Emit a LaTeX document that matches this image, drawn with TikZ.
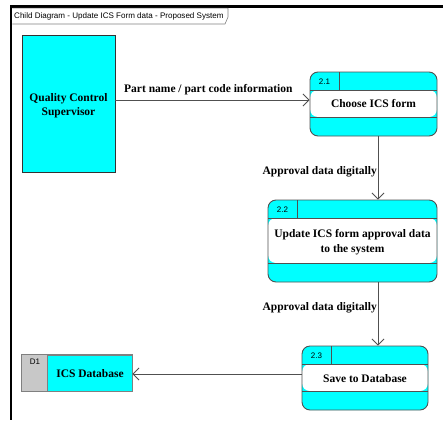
\documentclass[tikz,border=0pt]{standalone}
\usepackage{fontspec}
\setmainfont{Liberation Serif}
\newfontfamily\arialf{Liberation Sans}
\usetikzlibrary{arrows.meta,calc}
\definecolor{cyanf}{HTML}{00FFFF}
\definecolor{bordc}{HTML}{505050}
\definecolor{grayf}{HTML}{C8C8C8}
\tikzset{
  x=1pt, y=-1pt,
  proc/.style={rectangle, rounded corners=8pt, fill=cyanf, draw=bordc, line width=0.9pt,
    inner sep=0pt,
    path picture={
      \fill[white] ([yshift=-18pt]path picture bounding box.north west) rectangle ([yshift=19pt]path picture bounding box.south east);
      \draw[bordc, line width=0.9pt] ([yshift=-18pt]path picture bounding box.north west) -- ([yshift=-18pt]path picture bounding box.north east);
      \draw[bordc, line width=0.9pt] ([yshift=19pt]path picture bounding box.south west) -- ([yshift=19pt]path picture bounding box.south east);
      \draw[bordc, line width=0.9pt] ([xshift=29pt]path picture bounding box.north west) -- ([xshift=29pt,yshift=-18pt]path picture bounding box.north west);
    }},
  ptext/.style={font=\fontsize{11.5}{14}\selectfont\bfseries, align=center, inner sep=0pt},
  pid/.style={font=\arialf\fontsize{8}{9}\selectfont, inner sep=0pt},
  flowlbl/.style={font=\fontsize{11.5}{14}\selectfont\bfseries, inner sep=0pt},
  flow/.style={draw=bordc, line width=0.9pt, -{Straight Barb[length=6pt,width=12pt,line width=0.9pt]}},
}
\begin{document}
\begin{tikzpicture}
\useasboundingbox (0,0) rectangle (443,420);
\fill[white] (0,0) rectangle (443,420);
% frame
\fill[black] (9.6,5.2) rectangle (12.4,420);
\fill[black] (9.6,5.2) rectangle (443,7.8);
\draw[gray, line width=0.6pt, fill=white] (12.4,8.1) -- (228,8.1) -- (228,17) -- (225,24) -- (12.4,24);
\node[font=\arialf\fontsize{8.05}{10}\selectfont, inner sep=0pt, anchor=west] (title) at (14,16) {Child Diagram - Update ICS Form data - Proposed System};

% external entity
\node[draw=black!80, fill=cyanf, line width=0.8pt, minimum width=93pt, minimum height=137pt, inner sep=0pt] (qcs) at (68.5,103.5) {};
\node[ptext] (qcst) at (68.5,105.5) {Quality Control\\Supervisor};

% processes
\node[proc, minimum width=127pt, minimum height=64pt] (p1) at (373.5,104) {};
\node[pid] (p1id) at (324.5,81.5) {2.1};
\node[ptext] (p1t) at (373.5,104) {Choose ICS form};

\node[proc, minimum width=169pt, minimum height=82pt] (p2) at (352.5,241) {};
\node[pid] (p2id) at (282.5,209.5) {2.2};
\node[ptext, font=\fontsize{11.5}{14.5}\selectfont\bfseries] (p2t) at (352.5,242) {Update ICS form approval data\\to the system};

\node[proc, minimum width=126pt, minimum height=64pt] (p3) at (365,378) {};
\node[pid] (p3id) at (316.5,355.5) {2.3};
\node[ptext] (p3t) at (365,378.5) {Save to Database};

% data store
\node[draw=gray, fill=cyanf, line width=0.8pt, minimum width=110pt, minimum height=36pt, inner sep=0pt] (ds) at (77,373) {};
\fill[grayf] (ds.north west) rectangle ([xshift=26pt]ds.south west);
\draw[gray, line width=0.8pt] (ds.north west) rectangle (ds.south east);
\draw[gray, line width=0.8pt] ([xshift=26pt]ds.north west) -- ([xshift=26pt]ds.south west);
\node[pid] (dsid) at (35,362) {D1};
\node[ptext] (dst) at (90,374) {ICS Database};

% flows
\coordinate (a1s) at (qcs.east |- 0,100);
\coordinate (a1e) at (p1.west |- 0,100);
\draw[flow] (a1s) -- (a1e);
\node[flowlbl, anchor=south west] (l1) at (124,95.5) {Part name / part code information};

\coordinate (a2s) at (378,0 |- p1.south);
\coordinate (a2e) at (378,0 |- p2.north);
\draw[flow] (a2s) -- (a2e);
\node[flowlbl, anchor=east] (l2) at (377,172) {Approval data digitally};

\coordinate (a3s) at (378,0 |- p2.south);
\coordinate (a3e) at (378,0 |- p3.north);
\draw[flow] (a3s) -- (a3e);
\node[flowlbl, anchor=east] (l3) at (377,308) {Approval data digitally};

\coordinate (a4s) at (p3.west |- 0,374);
\coordinate (a4e) at (ds.east |- 0,374);
\draw[flow] (a4s) -- (a4e);
\end{tikzpicture}
\end{document}
